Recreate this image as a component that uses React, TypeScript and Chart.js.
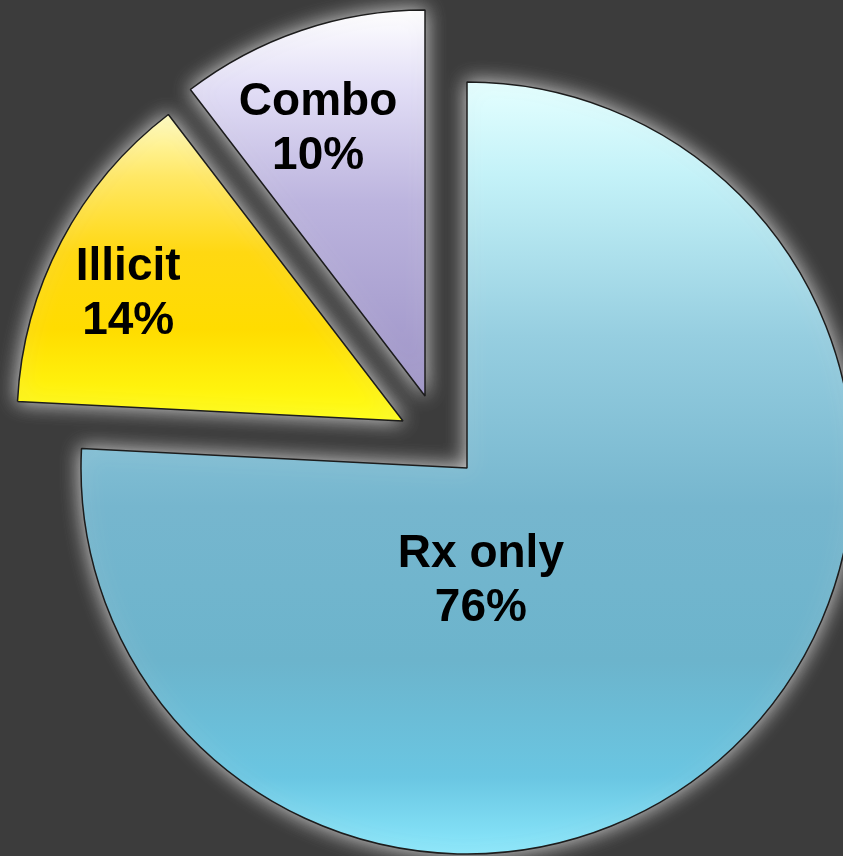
import React, { useEffect, useRef } from "react";
import { Chart, registerables } from "chart.js";

Chart.register(...registerables);

// ---- data ----
const categories = ["Rx only", "Illicit", "Combo"];
const shares = [75.8, 13.8, 10.4];

// ---- style ----
const BG = "#3c3c3c";
const RADIUS = 386;
// explosion shift (px) of each slice from the common centre
const explodeShift: number[][] = [
  [0, 0],
  [-64, -47],
  [-42, -72],
];
// label block centre, as fractions of radius relative to slice centre
const labelAnchor: number[][] = [
  [0.036, 0.288],
  [-0.712, -0.334],
  [-0.277, -0.697],
];
// vertical gradient extents (fractions of radius relative to slice centre) and stops
const gradRange: number[][] = [
  [-1, 1],
  [-0.793, 0],
  [-1, 0],
];
const gradStops: [number, string][][] = [
  [
    [0, "#e4ffff"],
    [0.12, "#c4f2f8"],
    [0.33, "#96cee0"],
    [0.55, "#76b6ce"],
    [0.75, "#6cb4cc"],
    [0.9, "#6ac6e2"],
    [1, "#8ae8fc"],
  ],
  [
    [0, "#fffcc0"],
    [0.2, "#ffe866"],
    [0.45, "#ffd812"],
    [0.7, "#ffdc00"],
    [1, "#ffff14"],
  ],
  [
    [0, "#ffffff"],
    [0.2, "#e2def6"],
    [0.5, "#bcb4de"],
    [1, "#9c92c6"],
  ],
];
const fallbackColors = ["#8cc8dc", "#ffd812", "#bcb4de"];

const explodePlugin = {
  id: "explodeShift",
  afterDatasetsUpdate(chart: any) {
    const meta = chart.getDatasetMeta(0);
    meta.data.forEach((arc: any, i: number) => {
      arc.x += explodeShift[i][0];
      arc.y += explodeShift[i][1];
    });
  },
};

const glowPlugin = {
  id: "glow",
  beforeDatasetDraw(chart: any) {
    const ctx = chart.ctx;
    ctx.save();
    ctx.shadowColor = "rgba(215,215,215,1)";
    ctx.shadowBlur = 20;
  },
  afterDatasetDraw(chart: any) {
    chart.ctx.restore();
  },
};

const labelPlugin = {
  id: "sliceLabels",
  afterDatasetsDraw(chart: any) {
    const ctx = chart.ctx;
    const meta = chart.getDatasetMeta(0);
    ctx.save();
    ctx.shadowColor = "transparent";
    ctx.fillStyle = "#000000";
    ctx.textAlign = "center";
    ctx.textBaseline = "middle";
    ctx.font = 'bold 46px "Liberation Sans", Arial, sans-serif';
    meta.data.forEach((arc: any, i: number) => {
      const r = arc.outerRadius;
      const cx = arc.x + labelAnchor[i][0] * r;
      const cy = arc.y + labelAnchor[i][1] * r;
      const lines = [categories[i], Math.round(shares[i]) + "%"];
      const lh = 54;
      lines.forEach((t, k) => {
        ctx.fillText(t, cx, cy + (k - (lines.length - 1) / 2) * lh + 2);
      });
    });
    ctx.restore();
  },
};

function sliceFill(c: any) {
  const chart = c.chart;
  const i = c.dataIndex;
  const area = chart.chartArea;
  if (!area) return fallbackColors[i];
  const cy = (area.top + area.bottom) / 2 + explodeShift[i][1];
  const y0 = cy + gradRange[i][0] * RADIUS;
  const y1 = cy + gradRange[i][1] * RADIUS;
  const g = chart.ctx.createLinearGradient(0, y0, 0, y1);
  gradStops[i].forEach(([o, col]) => g.addColorStop(o, col));
  return g;
}

export default function App() {
  const ref = useRef<HTMLCanvasElement | null>(null);
  useEffect(() => {
    if (!ref.current) return;
    const chart = new Chart(ref.current, {
      type: "pie",
      data: {
        labels: categories,
        datasets: [
          {
            data: shares,
            backgroundColor: sliceFill as any,
            borderColor: "#1c1c1c",
            borderWidth: 1.5,
            clip: false as any,
          },
        ],
      },
      options: {
        responsive: false,
        animation: false,
        radius: RADIUS,
        layout: { padding: { left: 91, top: 80, right: 0, bottom: 0 } },
        plugins: {
          legend: { display: false },
          tooltip: { enabled: false },
          title: { display: false },
        },
      } as any,
      plugins: [explodePlugin, glowPlugin, labelPlugin],
    });
    return () => chart.destroy();
  }, []);
  return (
    <div
      style={{
        position: "absolute",
        left: 0,
        top: 0,
        width: 843,
        height: 856,
        background: BG,
        overflow: "hidden",
      }}
    >
      <canvas ref={ref} width={843} height={856} style={{ display: "block" }} />
    </div>
  );
}
